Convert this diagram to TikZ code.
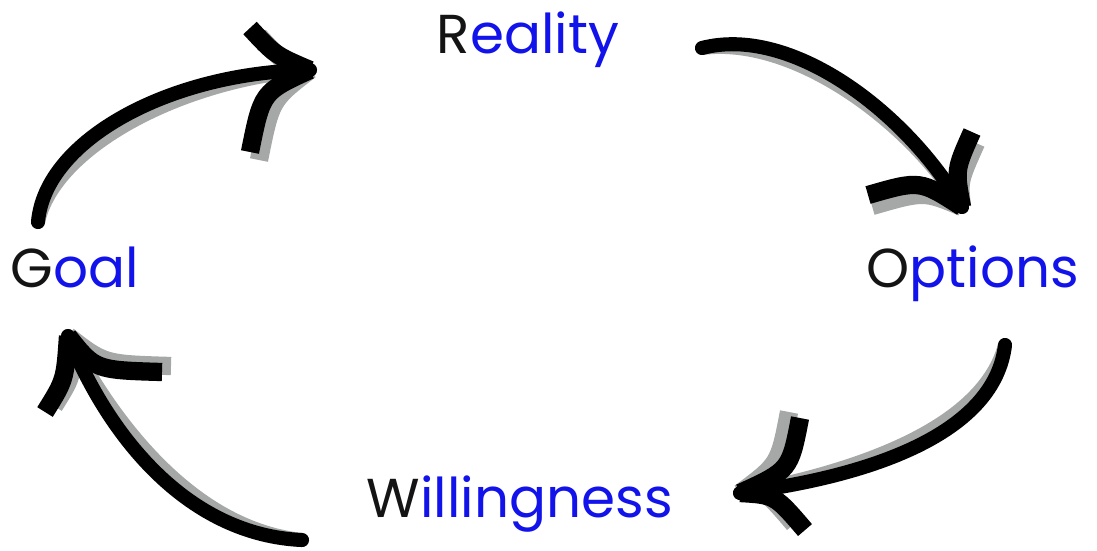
\documentclass[tikz,border=0pt]{standalone}
\usepackage{fontspec}
\setmainfont{Poppins}
\usetikzlibrary{positioning}

\definecolor{wordblue}{RGB}{18,18,235}
\definecolor{inkblack}{RGB}{20,20,20}
\definecolor{shadowgray}{RGB}{166,168,168}

% first letter black, the rest blue
\newcommand{\cueword}[2]{\textcolor{inkblack}{#1}\textcolor{wordblue}{#2}}

% #1 from, #2 #3 controls, #4 tip, #5/#6 and #7/#8 the two barbs
\newcommand{\sketcharrow}[8]{%
  \draw[shaft] (#1) .. controls (#2) and (#3) .. (#4);
  \draw[barb] (#4) .. controls (#5) .. (#6);
  \draw[barb] (#4) .. controls (#7) .. (#8);
}

\begin{document}
\begin{tikzpicture}[
      x=0.1mm, y=-0.1mm,
      word/.style={anchor=base west, inner sep=0pt, font=\fontsize{15.6}{18}\selectfont},
      shaft/.style={line width=4pt, line cap=round},
      barb/.style={line width=5.2pt, line cap=butt}]
    \useasboundingbox (0,0) rectangle (1097,550);

    \node[word] (reality) at (436,53) {\cueword{R}{eality}};
    \node[word] (goal) at (10,287) {\cueword{G}{oal}};
    \node[word] (options) at (866,287) {\cueword{O}{ptions}};
    \node[word] (will) at (366,517) {\cueword{W}{illingness}};

    \coordinate (goal-out) at (38,222);
    \coordinate (reality-in) at (310,70);
    \coordinate (reality-out) at (702,48);
    \coordinate (options-in) at (962,207);
    \coordinate (options-out) at (1005,345);
    \coordinate (will-in) at (740,493);
    \coordinate (will-out) at (302,540);
    \coordinate (goal-in) at (68,336);

    % shadows
    \begin{scope}[shadowgray, shift={(9,8)}]
      \sketcharrow{goal-out}{45,140}{170,72}{reality-in}{275,55}{250,28}{262,92}{250,152}
    \end{scope}
    \begin{scope}[shadowgray, shift={(4,11)}]
      \sketcharrow{reality-out}{790,25}{905,110}{options-in}{955,170}{972,132}{920,180}{868,195}
    \end{scope}
    \begin{scope}[shadowgray, shift={(-11,-6)}]
      \sketcharrow{options-out}{995,430}{880,475}{will-in}{790,470}{800,418}{775,495}{805,530}
    \end{scope}
    \begin{scope}[shadowgray, shift={(9,-6)}]
      \sketcharrow{will-out}{190,535}{110,440}{goal-in}{95,370}{162,372}{65,380}{45,412}
    \end{scope}

    % arrows
    \begin{scope}[black]
      \sketcharrow{goal-out}{45,140}{170,72}{reality-in}{275,55}{250,28}{262,92}{250,152}
      \sketcharrow{reality-out}{790,25}{905,110}{options-in}{955,170}{972,132}{920,180}{868,195}
      \sketcharrow{options-out}{995,430}{880,475}{will-in}{790,470}{800,418}{775,495}{805,530}
      \sketcharrow{will-out}{190,535}{110,440}{goal-in}{95,370}{162,372}{65,380}{45,412}
    \end{scope}
  \end{tikzpicture}
\end{document}
